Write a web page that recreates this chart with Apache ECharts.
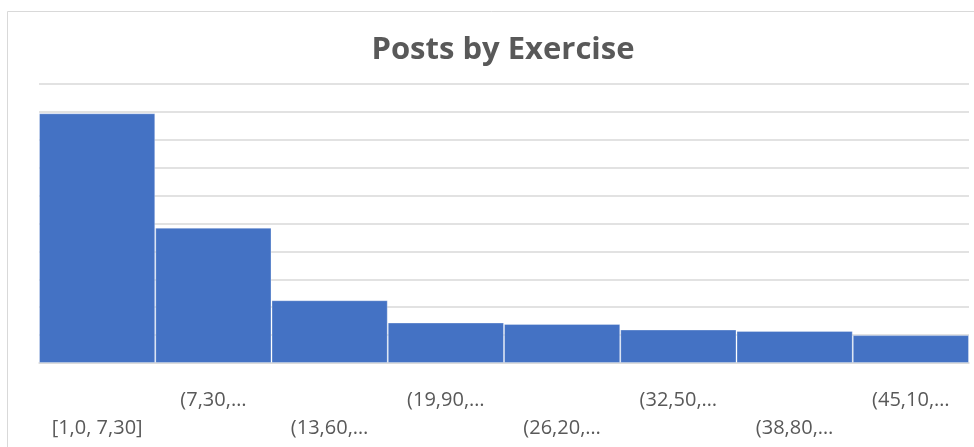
<!DOCTYPE html>
<html>
<head>
<meta charset="utf-8">
<title>Posts by Exercise</title>
<script src="https://cdn.jsdelivr.net/npm/echarts@6/dist/echarts.min.js"></script>
<style>
  html, body { margin: 0; padding: 0; background: #ffffff; }
  #chart { width: 974px; height: 447px; }
</style>
</head>
<body>
<div id="chart"></div>
<script>
// Histogram bins (labels as shown on the axis) and post counts per bin
const binLabels = ['[1,0, 7,30]', '(7,30,…', '(13,60,…', '(19,90,…', '(26,20,…', '(32,50,…', '(38,80,…', '(45,10,…'];
const postCounts = [179, 97, 45, 29, 28, 24, 23, 20];
const yMax = 200;
const yStep = 20;

const chart = echarts.init(document.getElementById('chart'), null, { renderer: 'canvas' });

chart.setOption({
  animation: false,
  backgroundColor: '#ffffff',
  title: {
    text: 'Posts by Exercise',
    left: 498,
    top: 30,
    textAlign: 'center',
    textStyle: {
      fontFamily: 'Open Sans',
      fontWeight: 'bold',
      fontSize: 31,
      color: '#595959'
    }
  },
  graphic: [{
    // chart frame
    type: 'rect',
    shape: { x: 7.5, y: 11.5, width: 1000, height: 500 },
    style: { fill: 'none', stroke: '#d9d9d9', lineWidth: 1 },
    silent: true
  }],
  grid: { left: 39, right: 5, top: 84, bottom: 84 },
  xAxis: {
    type: 'category',
    data: binLabels,
    axisTick: { show: false },
    axisLine: { show: true, lineStyle: { color: '#d9d9d9', width: 1.5 } },
    axisLabel: {
      interval: 0,
      hideOverlap: false,
      margin: 23,
      verticalAlign: 'top',
      lineHeight: 28,
      fontFamily: 'Open Sans',
      fontSize: 20,
      color: '#595959',
      formatter: function (value, index) {
        return index % 2 === 0 ? '\n' + value : value;
      }
    }
  },
  yAxis: {
    type: 'value',
    min: 0,
    max: yMax,
    interval: yStep,
    axisLabel: { show: false },
    axisLine: { show: false },
    axisTick: { show: false },
    splitLine: { show: true, lineStyle: { color: '#d9d9d9', width: 1.5 } }
  },
  series: [{
    type: 'bar',
    data: postCounts,
    barCategoryGap: 0,
    itemStyle: {
      color: '#4472c4',
      borderColor: 'rgba(255,255,255,0.3)',
      borderWidth: 1
    }
  }]
});
</script>
</body>
</html>
